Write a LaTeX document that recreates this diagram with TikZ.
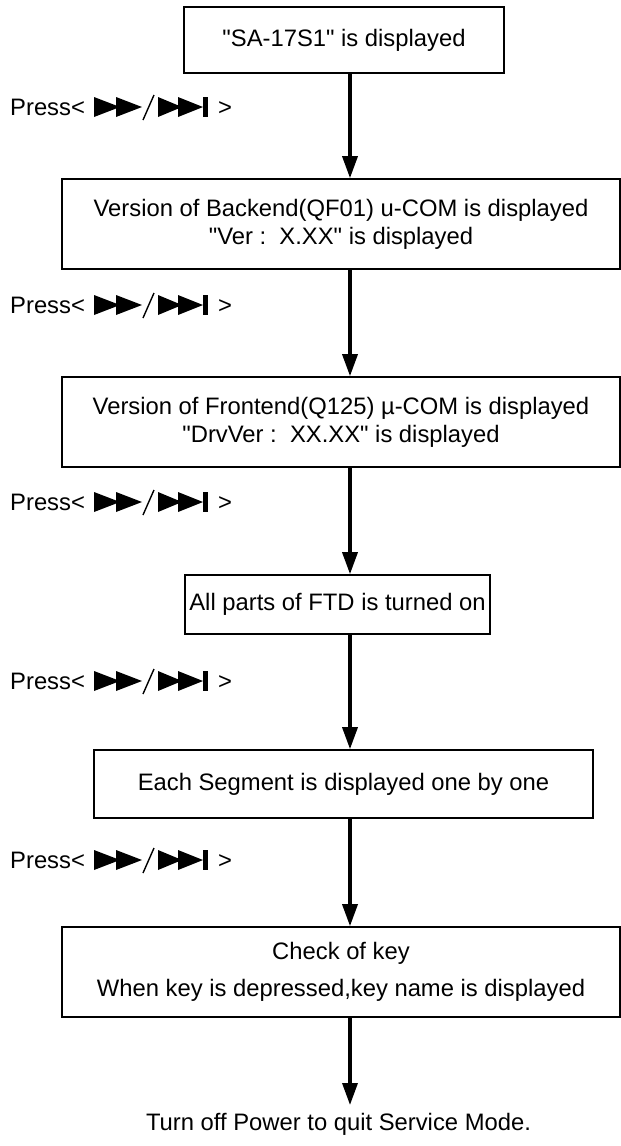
\documentclass[tikz,border=0pt]{standalone}
\usepackage{fontspec}
\setmainfont{Liberation Sans}[Ligatures=TeXOff]
\usetikzlibrary{arrows.meta}
\begin{document}
\begin{tikzpicture}[x=1pt,y=-1pt,
  txt/.style={font=\fontsize{23.8}{37}\selectfont},
  box/.style={txt,draw,line width=1.6pt,fill=white,align=center,inner sep=0pt},
  tight/.style={font=\fontsize{23.8}{28}\selectfont},
  flow/.style={line width=3.4pt,-{Triangle[length=22pt,width=15pt]}},
  press/.style={txt,anchor=base west,inner sep=0pt},
  % fast-forward / skip key symbols, origin on the text baseline
  skipkeys/.pic={
    \fill (0,2) -- (0,-18) -- (26,-8) -- cycle;
    \fill (22,2) -- (22,-18) -- (48,-8) -- cycle;
    \draw[line width=1.4pt] (49,5) -- (60,-20);
    \fill (64,2) -- (64,-18) -- (88,-8) -- cycle;
    \fill (84,2) -- (84,-18) -- (109,-8) -- cycle;
    \fill (108.5,2) rectangle (113.5,-18);
  }]
  \fill[white] (0,0) rectangle (621,1146);
  \useasboundingbox (0,0) rectangle (621,1146);
  \coordinate (ax) at (350,0);

  \node[box,minimum width=320pt,minimum height=66pt] (b1) at (344,40)
    {"SA-17S1" is displayed};
  \node[box,tight,minimum width=558pt,minimum height=90pt] (b2) at (341,224)
    {Version of Backend(QF01) u-COM is displayed\\"Ver :\ \ X.XX" is displayed};
  \node[box,tight,minimum width=558pt,minimum height=90pt] (b3) at (341,422)
    {Version of Frontend(Q125) µ-COM is displayed\\"DrvVer :\ \ XX.XX" is displayed};
  \node[box,minimum width=305pt,minimum height=59pt] (b4) at (337.5,604.5)
    {All parts of FTD is turned on};
  \node[box,minimum width=499pt,minimum height=68pt] (b5) at (343.5,784)
    {Each Segment is displayed one by one};
  \node[box,minimum width=558pt,minimum height=90pt] (b6) at (341,972)
    {Check of key\\When key is depressed,key name is displayed};
  \node[txt,anchor=north,inner xsep=0pt,inner ysep=8pt] (fin) at (338.5,1105)
    {Turn off Power to quit Service Mode.};

  \foreach \y [count=\i] in {115,313,510,689,868} {
    \node[press] (p\i) at (10,\y) {Press<};
    \pic (k\i) at (94,\y) {skipkeys};
    \node[press] (q\i) at (218,\y) {>};
  }

  \draw[flow] (b1.south -| ax) -- (b2.north -| ax);
  \draw[flow] (b2.south -| ax) -- (b3.north -| ax);
  \draw[flow] (b3.south -| ax) -- (b4.north -| ax);
  \draw[flow] (b4.south -| ax) -- (b5.north -| ax);
  \draw[flow] (b5.south -| ax) -- (b6.north -| ax);
  \draw[flow] (b6.south -| ax) -- (fin.north -| ax);
\end{tikzpicture}
\end{document}
